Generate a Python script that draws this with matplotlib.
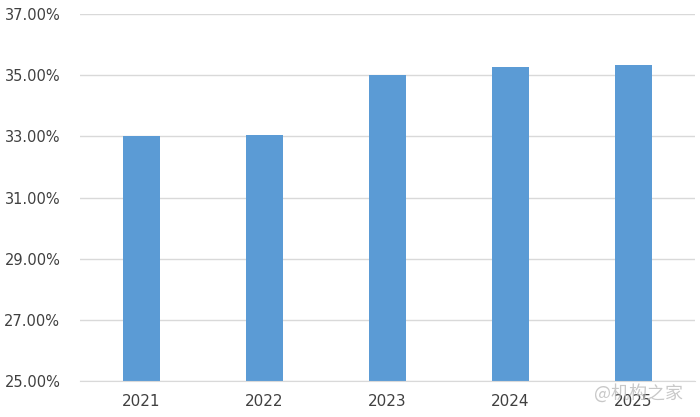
import matplotlib
matplotlib.use("Agg")
import matplotlib.pyplot as plt
from matplotlib.ticker import FuncFormatter

years = ["2021", "2022", "2023", "2024", "2025"]
values = [33.0, 33.03, 35.0, 35.28, 35.33]
yticks = [25, 27, 29, 31, 33, 35, 37]

plt.rcParams['font.family'] = ['DejaVu Sans', 'Noto Sans CJK SC']

fig = plt.figure(figsize=(7.0, 4.17), dpi=100)
ax = fig.add_axes([0.114, 0.0863, 0.879, 0.8801])

x = list(range(len(years)))
ax.bar(x, values, width=0.3, color="#5B9BD5", zorder=3, bottom=0)
ax.set_xlim(-0.5, len(years) - 0.5)
ax.set_ylim(25, 37)
ax.set_yticks(yticks)
ax.yaxis.set_major_formatter(FuncFormatter(lambda v, p: f"{v:.2f}%"))
ax.set_xticks(x)
ax.set_xticklabels(years)

ax.grid(axis="y", color="#D9D9D9", linewidth=1.0, zorder=0)
for s in ["top", "right", "left"]:
    ax.spines[s].set_visible(False)
ax.spines["bottom"].set_color("#D9D9D9")
ax.spines["bottom"].set_zorder(4)
ax.tick_params(axis="both", length=0, colors="#404040")
ax.tick_params(axis="y", pad=14, labelsize=10.5)
ax.tick_params(axis="x", pad=9, labelsize=11)

fig.text(0.848, 0.045, "@机构之家", fontsize=13, color="#BBBBBB", alpha=0.8,
         family=['Noto Sans CJK SC', 'DejaVu Sans'])

fig.savefig("out.png", dpi=100, facecolor="white")
